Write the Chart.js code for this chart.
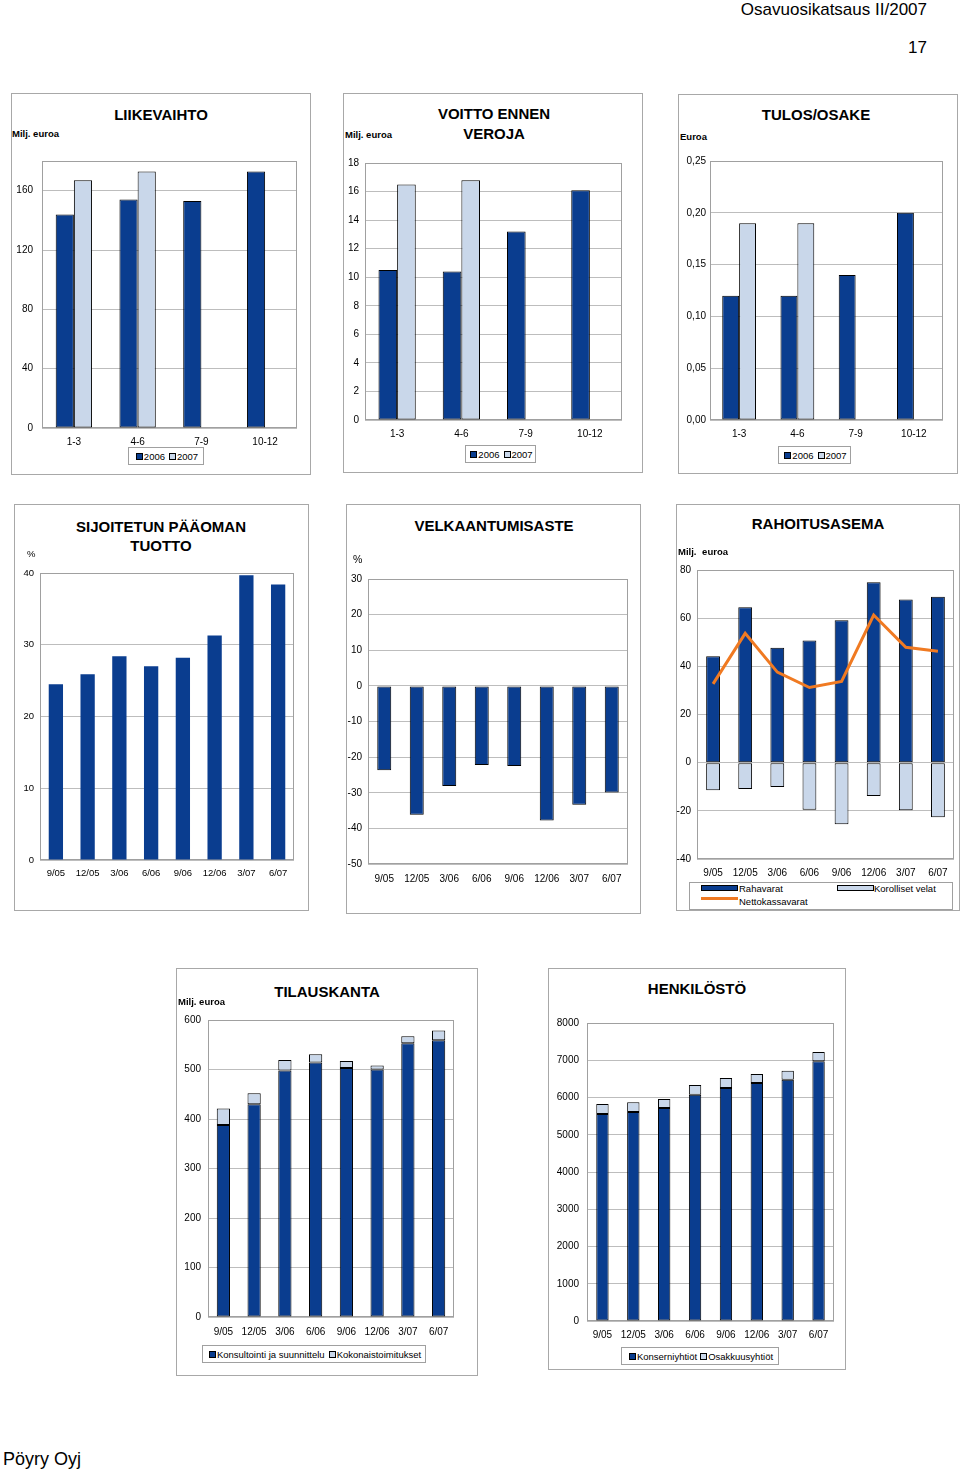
<!DOCTYPE html>
<html><head><meta charset="utf-8">
<script src="https://cdn.jsdelivr.net/npm/chart.js@4.4.0/dist/chart.umd.min.js"></script>
<style>
body{margin:0;background:#fff;}
#page{position:relative;width:960px;height:1471px;overflow:hidden;font-family:'Liberation Sans',Arial,sans-serif;color:#000;background:#fff;}
.box{position:absolute;border:1px solid #a8a8a8;box-sizing:border-box;}
canvas{position:absolute;}
.t{position:absolute;white-space:nowrap;z-index:2;}
.title{font-weight:bold;font-size:15px;line-height:20px;text-align:center;width:300px;}
.unit{font-weight:bold;font-size:9.5px;line-height:11px;}
.leg{position:absolute;border:1px solid #a0a0a0;box-sizing:border-box;font-size:9.5px;line-height:15px;white-space:nowrap;display:flex;align-items:center;justify-content:center;z-index:2;background:#fff;}
.sw{display:inline-block;width:5px;height:5px;border:1px solid #000;margin:0 1px 0 2px;}
.li{position:absolute;font-size:9.5px;line-height:11px;white-space:nowrap;}
.wsw{position:absolute;box-sizing:border-box;}
</style></head>
<body>
<div id="page">
  <div class="t" style="right:33px;top:0px;font-size:17px;line-height:20px;">Osavuosikatsaus II/2007</div>
  <div class="t" style="right:33px;top:38px;font-size:17px;line-height:20px;">17</div>
  <div class="t" style="left:3px;top:1448px;font-size:18px;line-height:22px;">Pöyry Oyj</div>

  <div class="box" style="left:11px;top:93px;width:300px;height:382px;"></div>
  <div class="box" style="left:343px;top:93px;width:300px;height:380px;"></div>
  <div class="box" style="left:678px;top:94px;width:280px;height:380px;"></div>
  <div class="box" style="left:14px;top:504px;width:295px;height:407px;"></div>
  <div class="box" style="left:346px;top:504px;width:295px;height:410px;"></div>
  <div class="box" style="left:676px;top:504px;width:284px;height:407px;"></div>
  <div class="box" style="left:176px;top:968px;width:302px;height:408px;"></div>
  <div class="box" style="left:548px;top:968px;width:298px;height:402px;"></div>

  <div class="t title" style="left:11px;top:105px;">LIIKEVAIHTO</div>
  <div class="t unit" style="left:12px;top:128px;">Milj. euroa</div>
  <div class="t title" style="left:344px;top:104px;">VOITTO ENNEN<br>VEROJA</div>
  <div class="t unit" style="left:345px;top:129px;">Milj. euroa</div>
  <div class="t title" style="left:666px;top:105px;">TULOS/OSAKE</div>
  <div class="t unit" style="left:680px;top:131px;">Euroa</div>

  <div class="t title" style="left:11px;top:517px;line-height:19px;">SIJOITETUN PÄÄOMAN<br>TUOTTO</div>
  <div class="t unit" style="left:27px;top:548px;font-weight:normal;">%</div>
  <div class="t title" style="left:344px;top:516px;">VELKAANTUMISASTE</div>
  <div class="t" style="left:353px;top:553px;font-size:10.5px;line-height:12px;">%</div>
  <div class="t title" style="left:668px;top:514px;">RAHOITUSASEMA</div>
  <div class="t unit" style="left:678px;top:546px;word-spacing:3px;">Milj. euroa</div>

  <div class="t title" style="left:177px;top:982px;">TILAUSKANTA</div>
  <div class="t unit" style="left:178px;top:996px;">Milj. euroa</div>
  <div class="t title" style="left:547px;top:979px;">HENKILÖSTÖ</div>

  <div class="leg" style="left:128px;top:447px;width:76px;height:18px;"><span class="sw" style="background:#0A3D8F"></span>2006<span class="sw" style="background:#C9D7EA;margin-left:4px"></span>2007</div>
  <div class="leg" style="left:465px;top:445px;width:71px;height:18px;"><span class="sw" style="background:#0A3D8F"></span>2006<span class="sw" style="background:#C9D7EA;margin-left:4px"></span>2007</div>
  <div class="leg" style="left:778px;top:446px;width:73px;height:18px;"><span class="sw" style="background:#0A3D8F"></span>2006<span class="sw" style="background:#C9D7EA;margin-left:4px"></span>2007</div>
  <div class="leg" style="left:202px;top:1345px;width:224px;height:18px;"><span class="sw" style="background:#0A3D8F"></span>Konsultointi ja suunnittelu<span class="sw" style="background:#C9D7EA;margin-left:4px"></span>Kokonaistoimitukset</div>
  <div class="leg" style="left:621px;top:1347px;width:158px;height:18px;"><span class="sw" style="background:#0A3D8F"></span>Konserniyhtiöt<span class="sw" style="background:#C9D7EA;margin-left:3px"></span>Osakkuusyhtiöt</div>

  <div class="leg" style="left:689px;top:882px;width:264px;height:28px;display:block;">
    <div class="wsw" style="left:11px;top:2px;width:37px;height:6px;background:#0A3D8F;border:1px solid #000;"></div>
    <div class="li" style="left:49px;top:0px;">Rahavarat</div>
    <div class="wsw" style="left:147px;top:2px;width:37px;height:6px;background:#C9D7EA;border:1px solid #000;"></div>
    <div class="li" style="left:184px;top:0px;">Korolliset velat</div>
    <div class="wsw" style="left:11px;top:14px;width:37px;height:3px;background:#F07A22;"></div>
    <div class="li" style="left:49px;top:13px;">Nettokassavarat</div>
  </div>
</div>
<script>
// ---------------- DATA ----------------
const quarterLabels = ['1-3', '4-6', '7-9', '10-12'];
const liikevaihto2006 = [144, 154, 153, 173];
const liikevaihto2007 = [167, 173, null, null];
const voitto2006 = [10.5, 10.4, 13.2, 16.1];
const voitto2007 = [16.5, 16.8, null, null];
const tulosOsake2006 = [0.12, 0.12, 0.14, 0.20];
const tulosOsake2007 = [0.19, 0.19, null, null];

const periodLabels = ['9/05', '12/05', '3/06', '6/06', '9/06', '12/06', '3/07', '6/07'];
const sijoitetunPaaomanTuotto = [24.5, 25.9, 28.4, 27.0, 28.2, 31.3, 39.7, 38.4];
const velkaantumisaste = [-23.7, -36.2, -28.1, -22.2, -22.5, -37.8, -33.4, -29.9];
const rahavarat = [44.2, 64.5, 47.7, 50.7, 59.1, 74.9, 67.7, 68.9];
const korollisetVelat = [-11.5, -10.9, -10.1, -19.6, -25.6, -13.8, -19.8, -22.7];
const nettokassavarat = [32.7, 53.7, 37.6, 31.2, 33.7, 61.3, 47.9, 46.3];
const konsultointi = [388, 430, 498, 514, 503, 500, 553, 559];
const kokonaistoimitukset = [33, 22, 21, 17, 14, 8, 14, 20];
const konserniyhtiot = [5560, 5612, 5719, 6077, 6256, 6390, 6479, 6971];
const osakkuusyhtiot = [267, 259, 242, 259, 268, 241, 241, 250];

// ---------------- STYLE ----------------
const DARK = '#0A3D8F';
const LIGHT = '#C9D7EA';
const ORANGE = '#F07A22';
Chart.defaults.font.family = "'Liberation Sans', Arial, sans-serif";
Chart.defaults.color = '#000';

const framePlugin = {
  id: 'frame',
  beforeDatasetsDraw(chart) {
    const a = chart.chartArea, ctx = chart.ctx;
    ctx.save();
    ctx.strokeStyle = '#a0a0a0';
    ctx.lineWidth = 1;
    const l = Math.round(a.left) + 0.5, t = Math.round(a.top) + 0.5;
    const r = Math.round(a.right) - 0.5, b = Math.round(a.bottom) - 0.5;
    ctx.strokeRect(l, t, r - l, b - t);
    ctx.restore();
  }
};

const page = document.getElementById('page');

function buildChart(c) {
  const rect = {x: c.box[0] - 10, y: c.plot.t - 16, w: c.box[2] - c.box[0] + 8};
  rect.h = (c.plot.b + 24) - rect.y;
  const cv = document.createElement('canvas');
  cv.width = rect.w; cv.height = rect.h;
  cv.style.left = rect.x + 'px'; cv.style.top = rect.y + 'px';
  cv.style.width = rect.w + 'px'; cv.style.height = rect.h + 'px';
  cv.style.zIndex = 1;
  page.appendChild(cv);
  const yW = c.plot.l - rect.x;
  const xH = rect.y + rect.h - c.plot.b;
  const yOpts = {
    stacked: !!c.stacked, min: c.min, max: c.max,
    grid: {color: '#bdbdbd', drawTicks: false, lineWidth: 1},
    border: {display: false},
    ticks: {stepSize: c.step, font: {size: c.yFont}, color: '#000', padding: c.yPad,
            callback: c.fmt || ((v) => String(v))},
    afterFit: (s) => { s.width = yW; }
  };
  if (c.maxLabel !== undefined) yOpts.afterBuildTicks = (s) => { s.ticks = s.ticks.filter(t => t.value <= c.maxLabel + 1e-9); };
  new Chart(cv, {
    type: 'bar',
    data: {labels: c.labels, datasets: c.datasets},
    options: {
      responsive: false, animation: false, devicePixelRatio: 1,
      layout: {padding: {left: 0, top: c.plot.t - rect.y, right: rect.x + rect.w - c.plot.r, bottom: 0}},
      plugins: {legend: {display: false}, tooltip: {enabled: false}, title: {display: false}},
      scales: {
        x: {
          stacked: !!c.stacked, offset: true,
          grid: {display: false, drawTicks: false}, border: {display: false},
          ticks: {font: {size: c.xFont}, color: '#000', padding: c.xPad, maxRotation: 0, autoSkip: false},
          afterFit: (s) => { s.height = xH; }
        },
        y: yOpts
      }
    },
    plugins: [framePlugin]
  });
}

function barDs(label, data, color, cp, bordered) {
  return {
    label, data, backgroundColor: color,
    borderColor: bordered ? '#000' : color, borderWidth: bordered ? 1 : 0, borderSkipped: false,
    categoryPercentage: cp, barPercentage: 1, order: 1
  };
}

const fmtComma = (v) => Number(v).toFixed(2).replace('.', ',');

// LIIKEVAIHTO
buildChart({
  box: [11, 93, 311, 475], plot: {l: 42, t: 161, r: 297, b: 428},
  labels: quarterLabels, min: 0, max: 180, step: 40, maxLabel: 160,
  yFont: 10, xFont: 10, yPad: 9, xPad: 8,
  datasets: [barDs('2006', liikevaihto2006, DARK, 0.57, true), barDs('2007', liikevaihto2007, LIGHT, 0.57, true)]
});
// VOITTO ENNEN VEROJA
buildChart({
  box: [343, 93, 643, 473], plot: {l: 365, t: 163, r: 622, b: 420},
  labels: quarterLabels, min: 0, max: 18, step: 2,
  yFont: 10, xFont: 10, yPad: 6, xPad: 8,
  datasets: [barDs('2006', voitto2006, DARK, 0.58, true), barDs('2007', voitto2007, LIGHT, 0.58, true)]
});
// TULOS/OSAKE
buildChart({
  box: [678, 94, 958, 474], plot: {l: 710, t: 161, r: 943, b: 420},
  labels: quarterLabels, min: 0, max: 0.25, step: 0.05, fmt: fmtComma,
  yFont: 10, xFont: 10, yPad: 4, xPad: 8,
  datasets: [barDs('2006', tulosOsake2006, DARK, 0.58, true), barDs('2007', tulosOsake2007, LIGHT, 0.58, true)]
});
// SIJOITETUN PÄÄOMAN TUOTTO
buildChart({
  box: [14, 504, 309, 911], plot: {l: 40, t: 573, r: 294, b: 860},
  labels: periodLabels, min: 0, max: 40, step: 10,
  yFont: 9.5, xFont: 9.5, yPad: 6, xPad: 8,
  datasets: [barDs('%', sijoitetunPaaomanTuotto, DARK, 0.45, false)]
});
// VELKAANTUMISASTE
buildChart({
  box: [346, 504, 641, 914], plot: {l: 368, t: 579, r: 628, b: 864},
  labels: periodLabels, min: -50, max: 30, step: 10,
  yFont: 10, xFont: 10, yPad: 6, xPad: 9,
  datasets: [barDs('%', velkaantumisaste, DARK, 0.43, true)]
});
// RAHOITUSASEMA
buildChart({
  box: [676, 504, 960, 911], plot: {l: 697, t: 570, r: 954, b: 859},
  labels: periodLabels, min: -40, max: 80, step: 20, stacked: true,
  yFont: 10, xFont: 10, yPad: 6, xPad: 8,
  datasets: [
    {type: 'line', label: 'Nettokassavarat', data: nettokassavarat, borderColor: ORANGE, borderWidth: 3,
     pointRadius: 0, fill: false, tension: 0, order: 0, stack: 'net'},
    barDs('Rahavarat', rahavarat, DARK, 0.43, true),
    barDs('Korolliset velat', korollisetVelat, LIGHT, 0.43, true)
  ]
});
// TILAUSKANTA
buildChart({
  box: [176, 968, 478, 1376], plot: {l: 208, t: 1020, r: 454, b: 1317},
  labels: periodLabels, min: 0, max: 600, step: 100, stacked: true,
  yFont: 10, xFont: 10, yPad: 7, xPad: 9,
  datasets: [barDs('Konsultointi ja suunnittelu', konsultointi, DARK, 0.43, true),
             barDs('Kokonaistoimitukset', kokonaistoimitukset, LIGHT, 0.43, true)]
});
// HENKILÖSTÖ
buildChart({
  box: [548, 968, 846, 1370], plot: {l: 587, t: 1023, r: 834, b: 1321},
  labels: periodLabels, min: 0, max: 8000, step: 1000, stacked: true,
  yFont: 10, xFont: 10, yPad: 8, xPad: 8,
  datasets: [barDs('Konserniyhtiöt', konserniyhtiot, DARK, 0.40, true),
             barDs('Osakkuusyhtiöt', osakkuusyhtiot, LIGHT, 0.40, true)]
});
</script>
</body></html>
